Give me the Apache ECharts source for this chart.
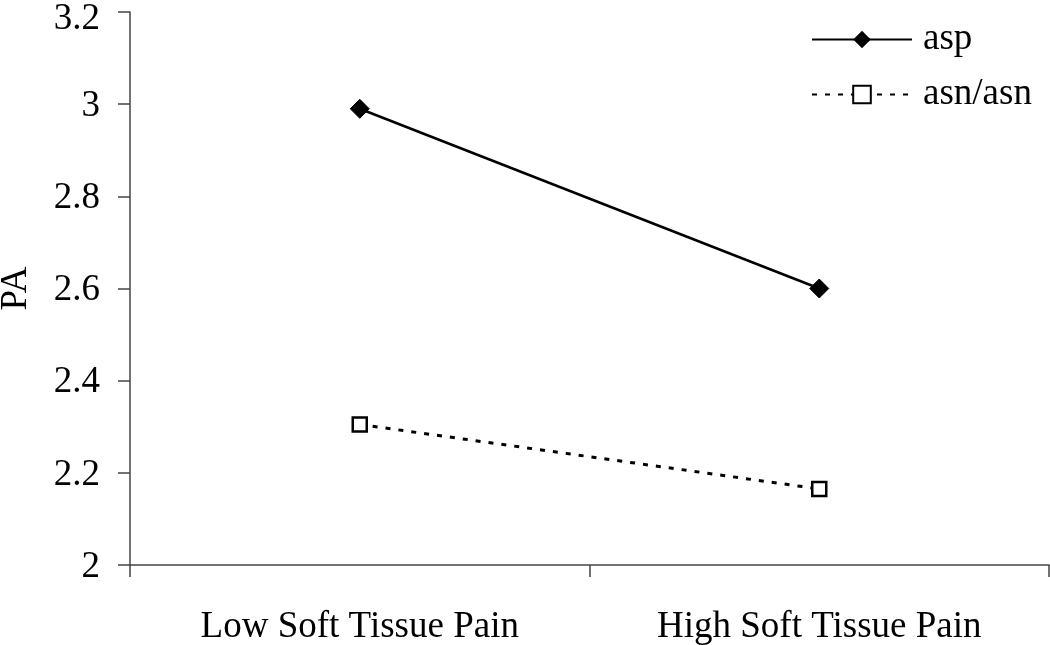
<!DOCTYPE html>
<html>
<head>
<meta charset="utf-8">
<script src="https://cdn.jsdelivr.net/npm/echarts@6/dist/echarts.min.js"></script>
<style>
html,body{margin:0;padding:0;background:#fff;}
#chart{width:1050px;height:645px;}
</style>
</head>
<body>
<div id="chart"></div>
<script>
const categories = ['Low Soft Tissue Pain', 'High Soft Tissue Pain'];
const aspValues = [2.99, 2.60];
const asnValues = [2.305, 2.165];
const seriesNames = ['asp', 'asn/asn'];
const yAxisName = 'PA';
const yMin = 2, yMax = 3.2, yStep = 0.2;

const font = 'Liberation Serif, Times New Roman, serif';
const chart = echarts.init(document.getElementById('chart'));
chart.setOption({
  animation: false,
  backgroundColor: '#fff',
  grid: {left: 130, right: 1, top: 12, bottom: 80, containLabel: false, outerBoundsMode: 'none'},
  legend: {
    orient: 'vertical',
    left: 806,
    top: 16,
    itemWidth: 100,
    itemHeight: 22,
    itemGap: 18,
    textStyle: {fontFamily: font, fontSize: 37, color: '#000', padding: [0,0,0,6]},
    data: seriesNames
  },
  xAxis: {
    type: 'category',
    data: categories,
    boundaryGap: true,
    axisLine: {lineStyle: {color: '#444', width: 1.5}},
    axisTick: {show: true, length: 12, lineStyle: {color: '#444', width: 1.5}},
    axisLabel: {fontFamily: font, fontSize: 37, color: '#000', margin: 44}
  },
  yAxis: {
    type: 'value',
    min: yMin,
    max: yMax,
    interval: yStep,
    name: yAxisName,
    nameLocation: 'middle',
    nameGap: 95,
    nameTextStyle: {fontFamily: font, fontSize: 37, color: '#000'},
    splitLine: {show: false},
    axisLine: {show: true, lineStyle: {color: '#444', width: 1.5}},
    axisTick: {show: true, length: 12, lineStyle: {color: '#444', width: 1.5}},
    axisLabel: {fontFamily: font, fontSize: 37, color: '#000', margin: 30, padding: [4, 0, 0, 0],
      formatter: v => {
        const s = String(Math.round(v * 10) / 10);
        return v >= yMax - 1e-9 ? '{t|' + s + '}' : s;
      },
      rich: {t: {fontFamily: font, fontSize: 37, color: '#000', padding: [10, 0, 0, 0]}}
    }
  },
  series: [
    {
      name: seriesNames[0],
      type: 'line',
      data: aspValues,
      symbol: 'diamond',
      symbolSize: 19,
      lineStyle: {color: '#000', width: 2.5},
      itemStyle: {color: '#000', borderColor: '#000'}
    },
    {
      name: seriesNames[1],
      type: 'line',
      data: asnValues,
      symbol: 'rect',
      symbolSize: 14,
      showSymbol: true,
      lineStyle: {color: '#000', width: 3, type: [5, 8]},
      itemStyle: {color: '#fff', borderColor: '#000', borderWidth: 2.5}
    }
  ]
});
</script>
</body>
</html>
